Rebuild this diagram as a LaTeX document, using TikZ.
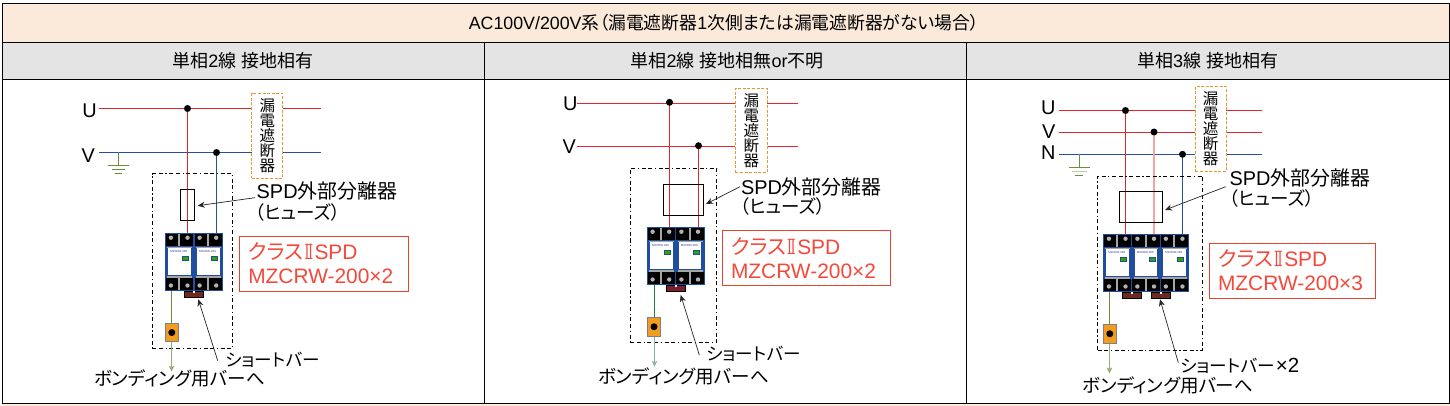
\documentclass[tikz,border=0pt]{standalone}
\usepackage{fontspec}
\setmainfont{Liberation Sans}
\newfontfamily\cjk[RawFeature={+palt}]{Noto Sans CJK JP}
\newfontfamily\rom{DejaVu Serif}
\newcommand{\J}[1]{{\cjk #1}}
\newcommand{\KII}{\J{クラス}\kern1pt\scalebox{0.6}[1]{\rom Ⅱ}\kern1.5pt SPD}
\usetikzlibrary{arrows.meta}
\definecolor{cream}{HTML}{FBE9D9}
\definecolor{subgray}{HTML}{E4E4E4}
\definecolor{wred}{HTML}{E3262B}
\definecolor{wpink}{HTML}{F4A3A3}
\definecolor{wblue}{HTML}{2450A0}
\definecolor{wgreen}{HTML}{6B8E3A}
\definecolor{wgreenb}{HTML}{1F7D3E}
\definecolor{wpale}{HTML}{93AD78}
\definecolor{wpaleb}{HTML}{86B592}
\definecolor{brk}{HTML}{E8962F}
\definecolor{boxred}{HTML}{E8432B}
\definecolor{txtred}{HTML}{F4493A}
\definecolor{modblue}{HTML}{1F4E9E}
\definecolor{blockor}{HTML}{F39C1F}
\definecolor{barbrown}{HTML}{6E2A1E}
\definecolor{barred}{HTML}{7A1F2B}
\tikzset{
  every node/.style={outer sep=0pt},
  cellbox/.style={draw=black,line width=1pt,inner sep=0pt,anchor=north west},
  headtxt/.style={font=\fontsize{17.8}{17.8}\selectfont,text=black,inner sep=0pt},
  subtxt/.style={font=\fontsize{18}{18}\selectfont,text=black,inner sep=0pt},
  lbl/.style={font=\fontsize{19.9}{19.9}\selectfont,anchor=base west,inner sep=0pt,text=black},
  lblr/.style={lbl,anchor=base east},
  kana/.style={font=\fontsize{18.5}{18.5}\selectfont,anchor=base west,inner sep=0pt,text=black},
  kanas/.style={kana,font=\fontsize{17.6}{17.6}\selectfont},
  spdtxt/.style={font=\fontsize{20.9}{20.9}\selectfont,anchor=base west,inner sep=0pt,text=txtred},
  wire/.style={line width=1.1pt},
  breaker/.style={draw=brk,fill=white,line width=1pt,dash pattern=on 3pt off 1.6pt,inner sep=0pt,align=center,
    font=\fontsize{15.5}{15}\selectfont,text=black},
  boxdash/.style={draw=black,line width=0.9pt,dash pattern=on 4pt off 2.6pt on 4pt off 2.6pt on 1.3pt off 2.6pt,inner sep=0pt,anchor=north west},
  fusebox/.style={draw=black,line width=0.9pt,inner sep=0pt,anchor=north west},
  redbox/.style={draw=boxred,line width=1pt,inner sep=0pt,anchor=north west},
  dot/.style={circle,fill=black,inner sep=0pt,minimum size=7pt},
  leader/.style={draw=black!85,line width=0.7pt,-{Stealth[length=7pt,width=6pt]}},
  block/.style={draw=black!50,fill=blockor,line width=1pt,inner sep=0pt,anchor=north west,minimum width=13pt,minimum height=18.5pt},
  modbody/.style={draw=modblue,fill=modblue,line width=1pt,inner sep=0pt,anchor=north west,minimum height=57.4pt},
  shortbar/.style={draw=black,line width=0.7pt,inner sep=0pt,anchor=north west,minimum width=19.5pt,minimum height=6.5pt},
  gtip/.style={-{Straight Barb[length=4pt,width=4pt]}},
}
% name, x, y, units, unit width
\newcommand{\spdmod}[5]{%
  \pgfmathsetlengthmacro{\mw}{#4*#5}%
  \node[modbody,minimum width=\mw] (#1) at (#2,#3) {};
  \foreach \u in {1,...,#4}{%
    \begin{scope}[shift={({#2+(\u-1)*#5},#3)}]
      \fill[black] (0.6,0.6) rectangle (13,13);
      \fill[black] (15,0.6) rectangle (#5-0.6,13);
      \fill[black] (0.6,44.5) rectangle (13,56.9);
      \fill[black] (15,44.5) rectangle (#5-0.6,56.9);
      \fill[black!35] (13,0.6) rectangle (15,13);
      \fill[black!35] (13,44.5) rectangle (15,56.9);
      \fill[black!35] (2,14) rectangle (#5-2,15);
      \fill[black!35] (2,43) rectangle (#5-2,44.2);
      \fill[black!30] (5.6,4.4) circle (2.2);
      \fill[black!30] (22.2,4.4) circle (2.2);
      \fill[black!30] (5.6,52.2) circle (2.2);
      \fill[black!30] (22.2,52.2) circle (2.2);
      \fill[white] (3,15) rectangle (25.5,41.7);
      \node[inner sep=0pt,font=\fontsize{2.9}{3}\selectfont,text=modblue!70!violet] at (13.5,18.5) {MZCRW-200};
      \draw[draw=modblue,fill=green!55!black!80!yellow,line width=0.5pt] (17,22.7) rectangle (23.2,27.4);
    \end{scope}}
}
\begin{document}
\begin{tikzpicture}[x=1pt,y=-1pt]
\useasboundingbox (0,0) rectangle (1450,406);
\fill[white] (0,0) rectangle (1450,406);
\fill[cream] (2,403) rectangle (1450,406);
% table
\node[cellbox,fill=cream,minimum width=1447pt,minimum height=39pt] (head) at (2.5,3.5) {};
\node[cellbox,fill=subgray,minimum width=482pt,minimum height=37.5pt] (sub1) at (2.5,42.5) {};
\node[cellbox,fill=subgray,minimum width=482pt,minimum height=37.5pt] (sub2) at (484.5,42.5) {};
\node[cellbox,fill=subgray,minimum width=483pt,minimum height=37.5pt] (sub3) at (966.5,42.5) {};
\node[cellbox,fill=white,minimum width=482pt,minimum height=323pt] (cell1) at (2.5,80) {};
\node[cellbox,fill=white,minimum width=482pt,minimum height=323pt] (cell2) at (484.5,80) {};
\node[cellbox,fill=white,minimum width=483pt,minimum height=323pt] (cell3) at (966.5,80) {};
\node[headtxt] (headt) at (724,23) {AC100V/200V\J{系（漏電遮断器}1\J{次側または漏電遮断器がない場合）}};
\node[subtxt] (sub1t) at (243,61) {\J{単相}2\J{線} \J{接地相有}};
\node[subtxt] (sub2t) at (727,61) {\J{単相}2\J{線} \J{接地相無}or\J{不明}};
\node[subtxt] (sub3t) at (1207.5,61) {\J{単相}3\J{線} \J{接地相有}};

% ---------- panel 1
\coordinate (p1ua) at (99,108.5); \coordinate (p1ub) at (321,108.5);
\coordinate (p1va) at (99,152.5); \coordinate (p1vb) at (321,152.5);
\coordinate (p1d1) at (187.5,108.5); \coordinate (p1d2) at (216.5,152.5);
\coordinate (p1e) at (118.5,152.5);
\spdmod{p1m}{165.3}{233.3}{2}{28.7}
\draw[wire,wred] (p1ua) -- (p1ub);
\draw[wire,wblue] (p1va) -- (p1vb);
\draw[wire,wred] (p1d1) -- (p1d1 |- p1m.north);
\draw[wire,wblue] (p1d2) -- (p1d2 |- p1m.north);
\draw[wgreen,line width=1pt] (p1e) -- ++(0,12.5) coordinate (p1g);
\draw[wgreen,line width=1pt] (108,165.5) -- (129,165.5) (112,169.5) -- (125,169.5) (115,173.5) -- (122,173.5);
\node[breaker,minimum width=31.3pt,minimum height=84.7pt] (p1b) at (267.3,135.7) {\J{漏}\\\J{電}\\\J{遮}\\\J{断}\\\J{器}};
\node[dot] (p1n1) at (p1d1) {}; \node[dot] (p1n2) at (p1d2) {};
\node[lbl] (p1ul) at (82.3,118) {U}; \node[lbl] (p1vl) at (81.5,162.3) {V};
\node[boxdash,minimum width=80.4pt,minimum height=174.6pt] (p1box) at (152.3,173.7) {};
\node[fusebox,minimum width=14.4pt,minimum height=31pt] (p1f) at (180.3,189.3) {};
\node[lbl] (p1s) at (256.7,199) {SPD\J{外部分離器}};
\node[kana] (p1s2) at (255.5,219) {\J{（ヒューズ）}};
\coordinate (p1la) at (255,197.7); \coordinate (p1lb) at (197.7,205.7);
\draw[leader] (p1la) -- (p1lb);
\node[shortbar,fill=barbrown] (p1bar) at (184.3,291) {};
\fill[white] (192.6,291) rectangle (195.2,292.6);
\coordinate (p1wt) at (171.5,291); \coordinate (p1wm) at (171.5,341.7); \coordinate (p1we) at (171.5,371.5);
\draw[wire,wgreen] (p1wt) -- (p1wm);
\draw[wpale,line width=1.3pt,gtip] (p1wm) -- (p1we);
\node[block] (p1t) at (165.3,323.3) {};
\node[dot] (p1td) at (p1t.center) {};
\coordinate (p1sa) at (217.7,360.7); \coordinate (p1sb) at (198.3,299.3);
\draw[leader] (p1sa) -- (p1sb);
\node[kanas] (p1sl) at (225.5,366) {\J{ショートバー}};
\node[kana] (p1bl) at (94,385.5) {\J{ボンディング用バーへ}};
\node[redbox,minimum width=169pt,minimum height=54.6pt] (p1r) at (239.3,236.7) {};
\node[spdtxt] (p1r1) at (248.3,259.3) {\KII};
\node[spdtxt] (p1r2) at (248.3,283.3) {MZCRW-200×2};

% ---------- panel 2
\coordinate (p2ua) at (576.7,103.5); \coordinate (p2ub) at (798,103.5);
\coordinate (p2va) at (576.7,146.5); \coordinate (p2vb) at (798,146.5);
\coordinate (p2d1) at (669.5,102.3); \coordinate (p2d2) at (698.5,145.7);
\spdmod{p2m}{647}{227.3}{2}{28.8}
\draw[wire,wred] (p2ua) -- (p2ub);
\draw[wire,wred] (p2va) -- (p2vb);
\draw[wire,wred] (p2d1) -- (p2d1 |- p2m.north);
\draw[wire,wred] (p2d2) -- (p2d2 |- p2m.north);
\node[breaker,minimum width=32pt,minimum height=84.4pt] (p2b) at (751.3,130.5) {\J{漏}\\\J{電}\\\J{遮}\\\J{断}\\\J{器}};
\node[dot] (p2n1) at (p2d1) {}; \node[dot] (p2n2) at (p2d2) {};
\node[lbl] (p2ul) at (563,111) {U}; \node[lbl] (p2vl) at (562.5,154) {V};
\node[boxdash,minimum width=86.4pt,minimum height=174pt] (p2box) at (630.3,168.3) {};
\node[fusebox,minimum width=40.4pt,minimum height=31pt] (p2f) at (663.3,184.3) {};
\node[lbl] (p2s) at (741,194.3) {SPD\J{外部分離器}};
\node[kana] (p2s2) at (740.5,213.5) {\J{（ヒューズ）}};
\coordinate (p2la) at (740,186.7); \coordinate (p2lb) at (706,204);
\draw[leader] (p2la) -- (p2lb);
\node[shortbar,fill=barred] (p2bar) at (666.3,285) {};
\fill[white] (674.6,285) rectangle (677.2,286.6);
\coordinate (p2wt) at (654.5,285); \coordinate (p2wm) at (654.5,336.7); \coordinate (p2we) at (654.5,366.7);
\draw[wire,wgreenb] (p2wt) -- (p2wm);
\draw[wpaleb,line width=1.3pt,gtip] (p2wm) -- (p2we);
\node[block] (p2t) at (647.5,317.5) {};
\node[dot] (p2td) at (p2t.center) {};
\coordinate (p2sa) at (699.3,355); \coordinate (p2sb) at (680.7,295);
\draw[leader] (p2sa) -- (p2sb);
\node[kanas] (p2sl) at (706.7,360) {\J{ショートバー}};
\node[kana] (p2bl) at (598,383) {\J{ボンディング用バーへ}};
\node[redbox,minimum width=168.4pt,minimum height=55.4pt] (p2r) at (722.3,230.3) {};
\node[spdtxt] (p2r1) at (731,254.3) {\KII};
\node[spdtxt] (p2r2) at (731,278.3) {MZCRW-200×2};

% ---------- panel 3
\coordinate (p3ua) at (1059,110.5); \coordinate (p3ub) at (1261.7,110.5);
\coordinate (p3va) at (1059,132.5); \coordinate (p3vb) at (1261.7,132.5);
\coordinate (p3na) at (1059,154.5); \coordinate (p3nb) at (1261.7,154.5);
\coordinate (p3d1) at (1125.5,110.5); \coordinate (p3d2) at (1154,132); \coordinate (p3d3) at (1182.5,154.3);
\coordinate (p3e) at (1079.5,154.5);
\spdmod{p3m}{1103.3}{234.3}{3}{28.47}
\draw[wire,wred] (p3ua) -- (p3ub);
\draw[wire,wred] (p3va) -- (p3vb);
\draw[wire,wblue] (p3na) -- (p3nb);
\draw[wire,wred] (p3d1) -- (p3d1 |- p3m.north);
\draw[wpink,line width=1.7pt] (p3d2) -- (p3d2 |- p3m.north);
\draw[wire,wblue] (p3d3) -- (p3d3 |- p3m.north);
\draw[wgreen,line width=1pt] (p3e) -- ++(0,13);
\draw[wgreen,line width=1pt] (1069,167.5) -- (1090,167.5) (1075,176) -- (1083,176);
\draw[wgreen!45,line width=1pt] (1072,171.7) -- (1087,171.7);
\node[breaker,minimum width=30.7pt,minimum height=85.4pt] (p3b) at (1210.7,129) {\J{漏}\\\J{電}\\\J{遮}\\\J{断}\\\J{器}};
\node[dot] (p3n1) at (p3d1) {}; \node[dot] (p3n2) at (p3d2) {}; \node[dot] (p3n3) at (p3d3) {};
\node[lblr] (p3ul) at (1055.5,115) {U}; \node[lblr] (p3vl) at (1055.5,138.3) {V}; \node[lblr] (p3nl) at (1055.5,160) {N};
\node[boxdash,minimum width=105pt,minimum height=174pt] (p3box) at (1097.7,176) {};
\node[fusebox,minimum width=43.4pt,minimum height=31pt] (p3f) at (1119.3,191.3) {};
\node[lbl] (p3s) at (1229.5,185.7) {SPD\J{外部分離器}};
\node[kana] (p3s2) at (1229.5,205) {\J{（ヒューズ）}};
\coordinate (p3la) at (1225.7,186.7); \coordinate (p3lb) at (1165,210);
\draw[leader] (p3la) -- (p3lb);
\node[shortbar,fill=barbrown] (p3bar1) at (1122.3,292) {};
\node[shortbar,fill=barbrown] (p3bar2) at (1151.3,292) {};
\fill[white] (1130.6,292) rectangle (1133.2,293.6);
\fill[white] (1159.6,292) rectangle (1162.2,293.6);
\coordinate (p3wt) at (1109.5,292); \coordinate (p3wm) at (1109.5,343.7); \coordinate (p3we) at (1109.5,373.3);
\draw[wire,wgreen] (p3wt) -- (p3wm);
\draw[wpale,line width=1.3pt,gtip] (p3wm) -- (p3we);
\node[block] (p3t) at (1103.3,324.5) {};
\node[dot] (p3td) at (p3t.center) {};
\coordinate (p3sa) at (1178.3,362.7); \coordinate (p3sb) at (1160,299.3);
\draw[leader] (p3sa) -- (p3sb);
\node[kanas] (p3sl) at (1180.7,372) {\J{ショートバー}\kern1pt\fontsize{20.5}{20.5}\selectfont×2};
\node[kana] (p3bl) at (1082.3,392.5) {\J{ボンディング用バーへ}};
\node[redbox,minimum width=166.4pt,minimum height=55.4pt] (p3r) at (1209.3,243.3) {};
\node[spdtxt] (p3r1) at (1218,266.7) {\KII};
\node[spdtxt] (p3r2) at (1218,290) {MZCRW-200×3};
\end{tikzpicture}
\end{document}
